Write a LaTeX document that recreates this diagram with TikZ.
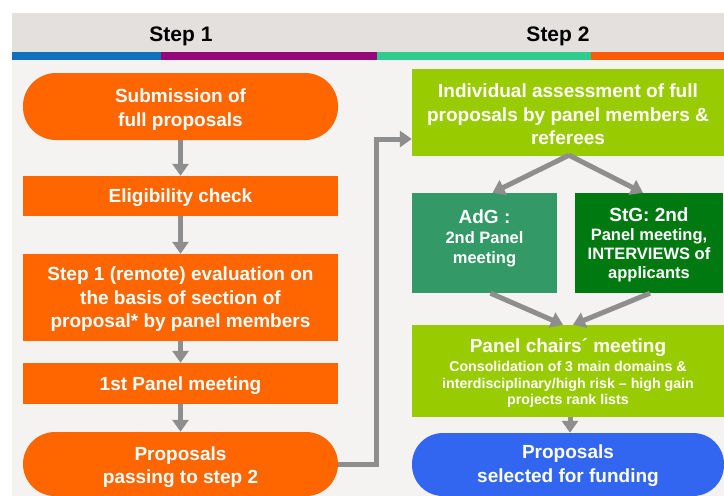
\documentclass[tikz,border=0pt]{standalone}
\usepackage{fontspec}
\setmainfont{Liberation Sans}
\usetikzlibrary{arrows.meta,calc}
\definecolor{bgc}{HTML}{F5F3F2}
\definecolor{hdr}{HTML}{E4E0DD}
\definecolor{barblue}{HTML}{1070BE}
\definecolor{barpurple}{HTML}{950678}
\definecolor{barteal}{HTML}{30CC8E}
\definecolor{barorange}{HTML}{FF5A05}
\definecolor{orng}{HTML}{FF6600}
\definecolor{lime}{HTML}{99CC00}
\definecolor{adgc}{HTML}{339966}
\definecolor{stgc}{HTML}{007A10}
\definecolor{bluec}{HTML}{3366F0}
\definecolor{arr}{HTML}{8E8E8E}
\newcommand{\smf}{\fontsize{16.5}{19}\selectfont}
\newcommand{\tnf}{\fontsize{14.2}{17}\selectfont}
\tikzset{
  box/.style={rectangle, inner sep=0pt, text=white, align=center,
    font=\bfseries\fontsize{19}{23.5}\selectfont},
  orbox/.style={box, fill=orng, minimum width=315pt},
  limebox/.style={box, fill=lime, minimum width=312pt},
  flow/.style={draw=arr, line width=5pt, -{Triangle[width=16pt,length=12pt]}},
  head/.style={font=\bfseries\fontsize{21}{24}\selectfont, text=black},
  lbl/.style={text=white, align=center, inner sep=0pt, font=\bfseries\fontsize{19}{23.5}\selectfont}
}
\begin{document}
\begin{tikzpicture}[x=1pt,y=-1pt]
\useasboundingbox (0,0) rectangle (724,496);
\fill[white] (0,0) rectangle (724,496);
\fill[bgc] (12,60) rectangle (724,496);
\fill[hdr] (12,13) rectangle (724,52);
\fill[barblue] (12,52) rectangle (161,60);
\fill[barpurple] (161,52) rectangle (377,60);
\fill[barteal] (377,52) rectangle (591,60);
\fill[barorange] (591,52) rectangle (724,60);
\node[head] (h1) at (181,36) {Step 1};
\node[head] (h2) at (558,36) {Step 2};

% left column
\node[orbox, minimum height=67pt, rounded corners=33pt] (sub) at (180.5,106.5) {};
\node[lbl] (subt) at ($(sub.center)+(0,3)$) {Submission of\\full proposals};
\node[orbox, minimum height=40pt] (elig) at (180.5,196) {};
\node[lbl] (eligt) at ($(elig.center)+(0,2)$) {Eligibility check};
\node[orbox, minimum height=87pt] (eval) at (180.5,297.5) {};
\node[lbl] (evalt) at ($(eval.center)+(0,2)$) {Step 1 (remote) evaluation on\\the basis of section of\\proposal* by panel members};
\node[orbox, minimum height=41pt] (pm1) at (180.5,383.5) {};
\node[lbl] (pm1t) at ($(pm1.center)+(0,2)$) {1st Panel meeting};
\node[orbox, minimum height=64pt, rounded corners=32pt] (pass) at (180.5,464) {};
\node[lbl] (passt) at ($(pass.center)+(0,3)$) {Proposals\\passing to step 2};

% right column
\node[limebox, minimum height=87pt] (indiv) at (568,112.5) {};
\node[lbl] (indivt) at ($(indiv.center)+(0,2)$) {Individual assessment of full\\proposals by panel members \&\\referees};
\node[box, fill=adgc, minimum width=145pt, minimum height=100pt] (adg) at (484.5,243) {};
\node[lbl] (adgt) at ($(adg.center)+(0,-5)$) {AdG :\\[-3pt]{\smf 2nd Panel}\\[-4pt]{\smf meeting}};
\node[box, fill=stgc, minimum width=148pt, minimum height=100pt] (stg) at (649,243) {};
\node[lbl] (stgt) at ($(stg.center)+(0,2)$) {StG: 2nd\\[-4pt]{\smf Panel meeting,}\\[-5pt]{\smf INTERVIEWS of}\\[-4pt]{\smf applicants}};
\node[limebox, minimum height=92pt] (chairs) at (568,371) {};
\node[lbl] (chairst) at ($(chairs.center)+(0,2)$) {Panel chairs\char"00B4{} meeting\\[-4pt]{\tnf Consolidation of 3 main domains \&}\\[-7pt]{\tnf interdisciplinary/high risk – high gain}\\[-7pt]{\tnf projects rank lists}};
\node[box, fill=bluec, minimum width=312pt, minimum height=63pt, rounded corners=31pt] (sel) at (568,464.5) {};
\node[lbl] (selt) at ($(sel.center)+(0,1)$) {Proposals\\selected for funding};

% connectors
\draw[flow] (sub.south) -- (elig.north);
\draw[flow] (elig.south) -- (eval.north);
\draw[flow] (eval.south) -- (pm1.north);
\draw[flow] (pm1.south) -- (pass.north);
\coordinate (c1) at (376,464);
\draw[flow] (pass.east) -- (c1) |- ($(indiv.west)+(0,26.5)$);
\coordinate (sp) at ($(indiv.south)+(1,-1)$);
\draw[flow] (sp) -- ($(adg.north)+(8,0)$);
\draw[flow] (sp) -- ($(stg.north)+(-6,0)$);
\draw[flow] ($(adg.south)+(6,0)$) -- ($(chairs.north)+(-5,0)$);
\draw[flow] ($(stg.south)+(1,0)$) -- ($(chairs.north)+(5,0)$);
\draw[flow] ($(chairs.south)+(2,0)$) -- ($(sel.north)+(2,0)$);
\end{tikzpicture}
\end{document}
